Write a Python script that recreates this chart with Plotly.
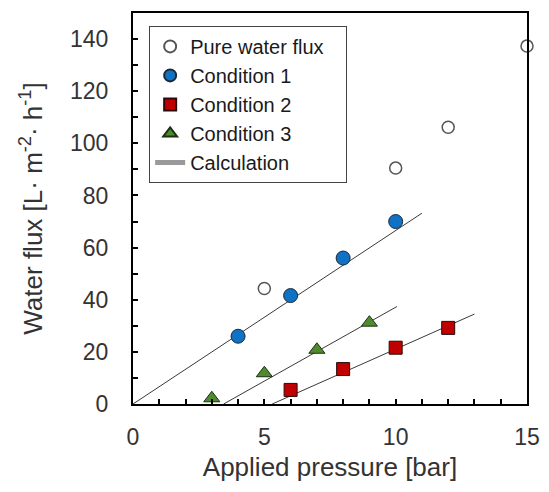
import plotly.graph_objects as go

# Data
pure_x = [5, 10, 12, 15]
pure_y = [44.3, 90.5, 106.2, 137.3]

c1_x = [4, 6, 8, 10]
c1_y = [26.0, 41.6, 56.0, 70.0]

c2_x = [6, 8, 10, 12]
c2_y = [5.4, 13.4, 21.6, 29.2]

c3_x = [3, 5, 7, 9]
c3_y = [2.2, 11.8, 20.8, 31.2]

calc_x = [0, 11.0, None, 3.45, 10.05, None, 5.3, 13.0]
calc_y = [0, 73.2, None, 0, 37.4, None, 0, 34.5]

x_ticks = [0, 5, 10, 15]
y_ticks = [0, 20, 40, 60, 80, 100, 120, 140]

FONT = "Liberation Sans, Arial, sans-serif"
TXT = "#333333"
PAD = "\u00a0" * 3  # trailing space so the legend box is as wide as the reference

fig = go.Figure()

fig.add_trace(go.Scatter(
    x=calc_x, y=calc_y, mode="lines", name="Calculation",
    line=dict(color="#3a3a3a", width=1), showlegend=False, connectgaps=False))

fig.add_trace(go.Scatter(
    x=pure_x, y=pure_y, mode="markers", name="Pure water flux" + PAD,
    marker=dict(symbol="circle", size=12, color="white",
                line=dict(color="#555555", width=1.5)),
    cliponaxis=False))
fig.add_trace(go.Scatter(
    x=c1_x, y=c1_y, mode="markers", name="Condition 1",
    marker=dict(symbol="circle", size=14, color="#1072c4",
                line=dict(color="#1b2a3a", width=1))))
fig.add_trace(go.Scatter(
    x=c2_x, y=c2_y, mode="markers", name="Condition 2",
    marker=dict(symbol="square", size=13, color="#c00000",
                line=dict(color="#2a0a0a", width=1))))
fig.add_trace(go.Scatter(
    x=c3_x, y=c3_y, mode="markers", name="Condition 3",
    marker=dict(symbol="triangle-up", size=14, color="#4e8a2e",
                line=dict(color="#1f2f14", width=1)),
    cliponaxis=False))
# legend entry for calculation lines
fig.add_trace(go.Scatter(
    x=[None], y=[None], mode="lines", name="Calculation",
    line=dict(color="#9a9a9a", width=2)))

fig.update_layout(
    width=541, height=484,
    margin=dict(l=125, r=22, t=5, b=88),
    paper_bgcolor="white", plot_bgcolor="white",
    font=dict(family=FONT, color=TXT, size=22),
    showlegend=True,
    legend=dict(
        x=0.041, y=0.967, xanchor="left", yanchor="top",
        bgcolor="white", bordercolor="#444444", borderwidth=1,
        font=dict(family=FONT, size=20, color="#1a1a1a"),
        itemsizing="constant", tracegroupgap=0,
    ),
)

fig.update_xaxes(
    range=[0, 15], tickvals=x_ticks, ticktext=[str(v) for v in x_ticks],
    ticks="inside", ticklen=5, tickwidth=1.5, tickcolor="black",
    minor=dict(dtick=1, ticks="inside", ticklen=5, tickwidth=1.5, tickcolor="black"),
    showline=True, linecolor="black", linewidth=2, mirror=True,
    showgrid=False, zeroline=False, automargin=False,
    tickfont=dict(size=23, color=TXT), ticklabelstandoff=11,
    title=dict(text="Applied pressure [bar]", font=dict(size=26, color=TXT), standoff=9),
)
fig.update_yaxes(
    range=[0, 150], tickvals=y_ticks, ticktext=[str(v) for v in y_ticks],
    ticks="inside", ticklen=5, tickwidth=1.5, tickcolor="black",
    minor=dict(dtick=10, ticks="inside", ticklen=5, tickwidth=1.5, tickcolor="black"),
    showline=True, linecolor="black", linewidth=2, mirror=True,
    showgrid=False, zeroline=False, automargin=False,
    tickfont=dict(size=23, color=TXT), ticklabelstandoff=18,
    title=dict(text="Water flux [L· m<sup>-2</sup>· h<sup>-1</sup>]",
               font=dict(size=26, color=TXT), standoff=20),
)

fig.write_html("out.html")
